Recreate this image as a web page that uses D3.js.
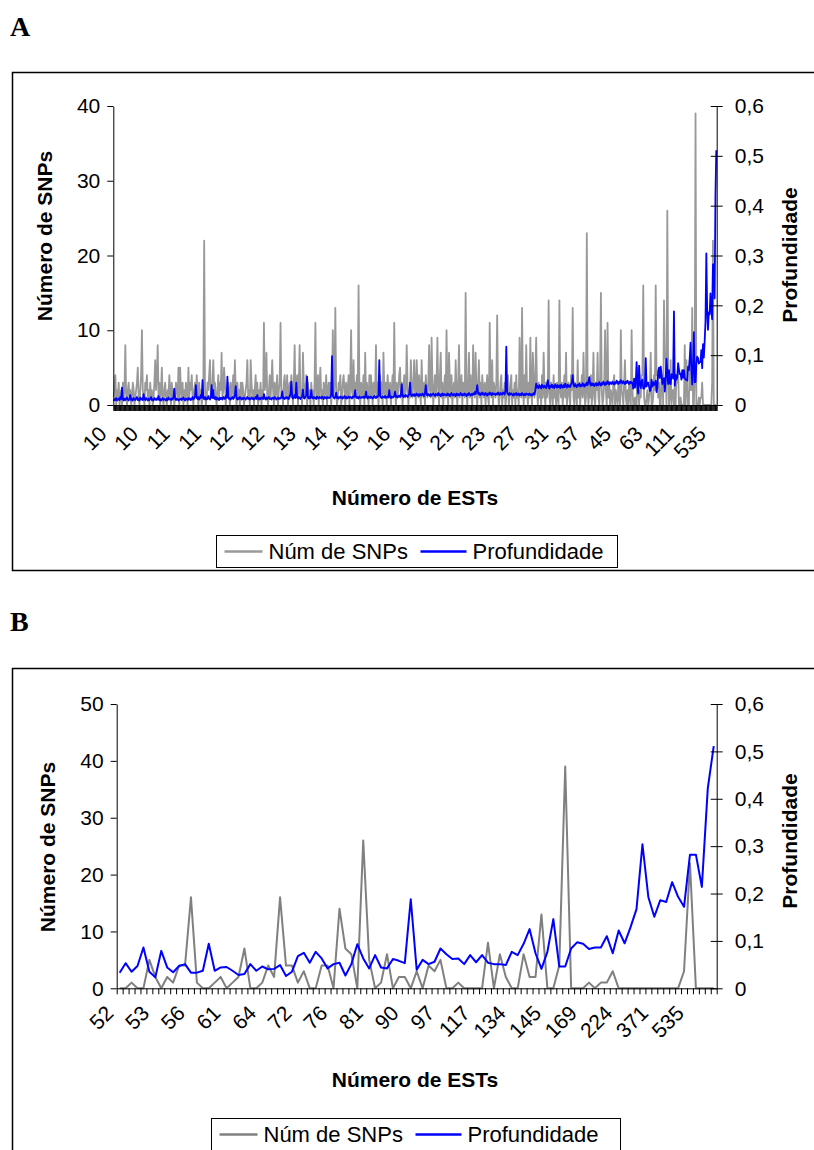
<!DOCTYPE html>
<html><head><meta charset="utf-8">
<script src="https://cdn.jsdelivr.net/npm/d3@7"></script>
<style>
body{margin:0;background:#fff}
svg{display:block}
text{font-family:"Liberation Sans",Arial,Helvetica,sans-serif;fill:#000}
</style>
</head><body>
<svg id="chart" width="814" height="1150"></svg>
<script>
// ---------- DATA ----------
// Panel A: contigs with >= 10 ESTs (first 626 contigs; the last 101 are the same as panel B)
const snpsAHead = [
1,3,4,0,2,1,3,0,1,2,0,3,1,2,8,1,0,2,3,1,
2,0,1,3,2,0,1,2,3,5,1,0,2,4,10,2,1,0,3,2,
4,1,2,0,3,1,2,0,1,3,6,2,4,8,1,3,0,2,5,1,
0,2,3,1,0,2,1,4,2,0,3,1,2,0,1,3,2,1,5,0,
5,2,1,3,0,2,1,3,2,0,5,1,3,2,4,1,0,2,3,1,
4,2,0,3,1,2,0,1,3,22,2,0,1,3,2,4,6,1,2,3,
6,2,3,1,0,2,4,1,3,2,7,1,2,5,3,0,2,1,3,2,
0,3,1,2,4,1,6,2,0,3,1,2,0,3,1,3,2,0,1,2,
3,6,1,2,0,6,3,1,2,0,2,4,1,3,0,2,1,3,0,2,
1,11,2,3,7,1,0,2,4,1,3,6,2,0,3,1,2,4,0,2,
3,11,1,2,0,3,4,1,2,4,0,2,3,1,4,2,0,3,8,1,
2,4,0,3,8,1,2,0,7,3,1,2,4,0,3,1,2,0,3,1,
2,0,3,11,1,2,4,0,3,5,1,2,0,3,1,2,4,0,2,3,
1,3,0,2,10,1,3,13,2,0,1,3,2,4,0,1,3,4,2,0,
3,1,2,4,0,3,10,2,1,6,0,3,2,4,1,16,2,0,3,1,
2,4,0,7,1,3,2,0,4,1,4,2,0,3,1,2,8,1,3,0,
2,4,1,3,0,7,2,1,3,0,4,2,1,3,0,2,4,1,11,2,
0,3,1,2,4,5,1,3,0,2,4,1,2,8,3,0,2,1,6,2,
1,3,6,2,0,6,3,1,4,2,0,6,2,1,3,0,4,2,1,3,
8,2,1,9,3,0,2,4,1,3,9,2,0,4,7,1,3,0,2,4,
1,10,2,0,7,3,1,4,0,2,3,1,6,2,0,3,8,1,2,4,
0,3,2,1,15,2,0,3,7,1,4,2,0,8,3,1,7,2,0,3,
6,1,3,0,4,2,1,3,0,2,4,1,0,11,2,1,6,0,3,2,
1,3,12,2,0,1,3,4,0,2,1,3,0,1,2,4,0,1,3,4,
0,2,1,3,0,4,1,2,0,9,3,1,13,2,0,4,1,8,2,0,
3,1,9,2,0,7,3,1,4,9,2,0,3,1,2,0,4,1,7,2,
0,3,1,2,14,1,0,3,2,0,4,1,2,0,3,1,0,14,2,1,
3,0,2,4,1,7,0,2,3,1,0,4,2,13,1,0,3,2,0,6,
1,3,0,2,4,1,7,2,0,1,23,2,0,3,1,4,0,2,7,1,
0,3,2,7,1,0,4,15,2,0,1,3,10,2,0,11,1,3,0,2,
1,0,3,4,0,2,1,0,3,1,0,10,2,1,0,3,6,1,0,2,
0,3,1,0,10,2
];
const depthAHead = [
0.008,0.012,0.010,0.014,0.009,0.011,0.013,0.010,0.016,0.012,0.035,0.011,0.009,0.013,0.010,0.012,0.015,0.011,0.009,0.013,
0.020,0.010,0.012,0.009,0.014,0.011,0.010,0.013,0.016,0.010,0.012,0.009,0.015,0.011,0.013,0.010,0.022,0.012,0.010,0.014,
0.011,0.009,0.013,0.010,0.012,0.016,0.010,0.011,0.009,0.014,0.012,0.010,0.013,0.011,0.018,0.010,0.012,0.009,0.011,0.014,
0.010,0.012,0.011,0.009,0.013,0.010,0.015,0.011,0.012,0.010,0.013,0.011,0.016,0.033,0.012,0.010,0.013,0.011,0.009,0.012,
0.011,0.013,0.010,0.012,0.015,0.011,0.009,0.013,0.012,0.010,0.014,0.011,0.013,0.010,0.012,0.016,0.011,0.013,0.018,0.040,
0.014,0.012,0.016,0.011,0.013,0.020,0.015,0.050,0.013,0.012,0.016,0.011,0.014,0.012,0.018,0.013,0.011,0.015,0.040,0.014,
0.030,0.013,0.012,0.016,0.011,0.014,0.013,0.010,0.015,0.012,0.014,0.011,0.016,0.013,0.012,0.018,0.014,0.057,0.016,0.012,
0.014,0.011,0.013,0.016,0.012,0.015,0.020,0.038,0.013,0.011,0.014,0.012,0.016,0.013,0.011,0.014,0.012,0.015,0.013,0.011,
0.013,0.016,0.012,0.014,0.011,0.013,0.015,0.012,0.014,0.011,0.013,0.016,0.012,0.020,0.013,0.011,0.014,0.012,0.015,0.013,
0.012,0.022,0.013,0.011,0.015,0.012,0.014,0.016,0.012,0.013,0.011,0.015,0.013,0.012,0.016,0.014,0.011,0.013,0.015,0.012,
0.014,0.013,0.016,0.027,0.013,0.015,0.012,0.014,0.016,0.013,0.015,0.012,0.018,0.022,0.047,0.016,0.013,0.015,0.020,0.014,
0.045,0.015,0.013,0.016,0.014,0.012,0.015,0.017,0.031,0.014,0.013,0.016,0.020,0.057,0.015,0.013,0.016,0.014,0.030,0.015,
0.013,0.016,0.014,0.015,0.012,0.017,0.014,0.013,0.016,0.015,0.013,0.017,0.014,0.012,0.016,0.015,0.013,0.016,0.014,0.015,
0.014,0.016,0.022,0.098,0.018,0.015,0.013,0.016,0.025,0.014,0.016,0.013,0.015,0.017,0.014,0.016,0.013,0.015,0.018,0.014,
0.016,0.013,0.015,0.017,0.014,0.016,0.015,0.013,0.017,0.015,0.018,0.030,0.015,0.014,0.016,0.013,0.017,0.015,0.014,0.016,
0.015,0.017,0.014,0.016,0.027,0.015,0.013,0.017,0.016,0.014,0.017,0.015,0.013,0.016,0.018,0.015,0.014,0.017,0.016,0.020,
0.090,0.017,0.015,0.014,0.017,0.016,0.015,0.018,0.014,0.016,0.017,0.015,0.030,0.016,0.014,0.017,0.015,0.016,0.018,0.027,
0.016,0.018,0.015,0.017,0.019,0.016,0.020,0.042,0.018,0.016,0.019,0.017,0.020,0.018,0.016,0.019,0.022,0.045,0.020,0.018,
0.021,0.019,0.022,0.018,0.020,0.023,0.019,0.021,0.018,0.022,0.020,0.019,0.023,0.021,0.018,0.024,0.040,0.021,0.019,0.022,
0.020,0.018,0.022,0.019,0.021,0.023,0.020,0.018,0.022,0.021,0.019,0.024,0.020,0.022,0.018,0.021,0.023,0.019,0.022,0.020,
0.021,0.019,0.023,0.020,0.022,0.018,0.021,0.024,0.020,0.019,0.022,0.021,0.018,0.023,0.020,0.022,0.019,0.021,0.024,0.020,
0.019,0.022,0.020,0.023,0.021,0.018,0.022,0.020,0.024,0.021,0.019,0.022,0.020,0.023,0.021,0.026,0.022,0.028,0.040,0.023,
0.021,0.024,0.020,0.022,0.025,0.021,0.023,0.020,0.024,0.022,0.019,0.023,0.021,0.025,0.022,0.020,0.024,0.021,0.023,0.022,
0.020,0.023,0.021,0.025,0.022,0.020,0.024,0.022,0.021,0.025,0.023,0.021,0.030,0.117,0.025,0.022,0.020,0.024,0.021,0.023,
0.021,0.019,0.023,0.020,0.022,0.024,0.020,0.021,0.023,0.019,0.022,0.020,0.024,0.021,0.019,0.022,0.020,0.023,0.021,0.022,
0.020,0.023,0.021,0.019,0.022,0.020,0.024,0.021,0.030,0.043,0.035,0.038,0.034,0.040,0.036,0.033,0.041,0.037,0.035,0.039,
0.036,0.034,0.040,0.050,0.037,0.033,0.039,0.036,0.041,0.035,0.038,0.034,0.042,0.037,0.035,0.040,0.036,0.039,0.034,0.041,
0.037,0.035,0.040,0.036,0.043,0.038,0.035,0.041,0.037,0.039,0.036,0.042,0.045,0.060,0.040,0.037,0.042,0.038,0.036,0.041,
0.039,0.043,0.037,0.040,0.038,0.044,0.041,0.037,0.042,0.039,0.045,0.040,0.048,0.056,0.042,0.039,0.044,0.040,0.043,0.038,
0.041,0.044,0.039,0.043,0.040,0.046,0.042,0.039,0.044,0.041,0.047,0.043,0.040,0.045,0.042,0.048,0.044,0.041,0.046,0.043,
0.042,0.047,0.044,0.041,0.046,0.043,0.049,0.045,0.042,0.047,0.044,0.050,0.046,0.043,0.048,0.045,0.042,0.047,0.044,0.049,
0.045,0.042,0.047,0.044,0.046,0.043
];
// Panel B: contigs with >= 52 ESTs
const snpsB = [
0,0,1,0,0,5,2,0,2,1,4,4,16,1,0,0,1,2,0,1,
2,7,0,0,1,4,2,16,4,4,1,3,0,0,4,4,0,14,7,6,
0,26,5,0,1,6,0,2,2,0,
3,0,4,3,5,0,0,1,0,0,0,0,8,0,6,2,0,0,6,2,
2,13,0,0,4,39,0,0,0,1,0,1,1,3,0,0,0,0,0,0,
0,0,0,0,0,3,22,0,0,0,0
];
const depthB = [
0.033,0.053,0.035,0.047,0.086,0.035,0.023,0.079,0.044,0.034,0.047,0.051,0.033,0.033,0.037,0.094,0.037,0.044,0.045,0.037,
0.028,0.030,0.051,0.037,0.046,0.040,0.041,0.049,0.026,0.035,0.068,0.075,0.054,0.077,0.063,0.042,0.051,0.054,0.027,0.051,
0.093,0.063,0.042,0.070,0.044,0.042,0.062,0.058,0.053,0.188,
0.039,0.060,0.051,0.056,0.084,0.072,0.062,0.063,0.051,0.070,0.055,0.070,0.054,0.051,0.051,0.049,0.077,0.070,0.094,0.125,
0.074,0.041,0.077,0.146,0.046,0.046,0.084,0.097,0.094,0.083,0.086,0.086,0.110,0.074,0.122,0.095,0.129,0.167,0.304,0.192,
0.151,0.186,0.182,0.224,0.193,0.172,0.282,0.282,0.214,0.422,0.511
];
const tickLabelsA = ["10","10","11","11","12","12","13","14","15","16","18","21","23","27","31","37","45","63","111","535"];
const tickLabelsB = ["52","53","56","61","64","72","76","81","90","97","117","134","145","169","224","371","535"];
const labelEveryA = 38, labelEveryB = 6;
const leftTicksA = [0,10,20,30,40];
const leftTicksB = [0,10,20,30,40,50];
const rightTicks = [0,0.1,0.2,0.3,0.4,0.5,0.6];
const seriesNames = ["Núm de SNPs","Profundidade"];
const axisTitles = {left:"Número de SNPs", right:"Profundidade", bottom:"Número de ESTs"};

const snpsA = snpsAHead.concat(snpsB);
const depthA = depthAHead.concat(depthB);

// ---------- DRAW ----------
const svg = d3.select("#chart");
const ptBR = d3.formatLocale({decimal:",", thousands:".", grouping:[3], currency:["",""]});
const fmtR = v => v === 0 ? "0" : ptBR.format(".1f")(v);

function panel(cfg){
  const g = svg.append("g");
  g.append("rect").attr("x",cfg.frame[0]).attr("y",cfg.frame[1])
    .attr("width",cfg.frame[2]).attr("height",cfg.frame[3])
    .attr("fill","none").attr("stroke","#000").attr("stroke-width",1.5);
  g.append("text").text(cfg.letter).attr("x",10).attr("y",cfg.letterY)
    .style("font-family","'Liberation Serif','Times New Roman',serif")
    .style("font-weight","bold").style("font-size","28px");

  const N = cfg.snps.length;
  const x = d3.scalePoint().domain(d3.range(N)).range([cfg.left,cfg.right]).padding(0.5);
  const xb = d3.scaleLinear().domain([0,N]).range([cfg.left,cfg.right]);
  const yL = d3.scaleLinear().domain([0,cfg.yMax]).range([cfg.bottom,cfg.top]);
  const yR = d3.scaleLinear().domain([0,0.6]).range([cfg.bottom,cfg.top]);

  const lineL = d3.line().x((d,i)=>x(i)).y(d=>yL(d));
  const lineR = d3.line().x((d,i)=>x(i)).y(d=>yR(d));
  g.append("path").datum(cfg.snps).attr("d",lineL).attr("fill","none")
    .attr("stroke",cfg.grayColor).attr("stroke-width",cfg.lw).attr("stroke-linejoin","round");
  g.append("path").datum(cfg.depth).attr("d",lineR).attr("fill","none")
    .attr("stroke","#0000ff").attr("stroke-width",cfg.lw).attr("stroke-linejoin","round");

  const axL = g.append("g").attr("transform",`translate(${cfg.left},0)`)
    .call(d3.axisLeft(yL).tickValues(cfg.leftTicks).tickSize(6).tickSizeOuter(0).tickPadding(7));
  const axR = g.append("g").attr("transform",`translate(${cfg.right},0)`)
    .call(d3.axisRight(yR).tickValues(rightTicks).tickSize(6).tickSizeOuter(0).tickPadding(12).tickFormat(fmtR));
  axR.selectAll(".tick line").attr("x1",-6);
  const axB = g.append("g").attr("transform",`translate(0,${cfg.bottom})`)
    .call(d3.axisBottom(xb).tickValues(d3.range(N+1)).tickSize(6).tickSizeOuter(0).tickFormat(""));
  [axL,axR,axB].forEach(a=>{
    a.selectAll("path,line").attr("stroke","#000").attr("stroke-width",1);
    a.selectAll("text").style("font-size","21px").style("font-family","'Liberation Sans',Arial,sans-serif").attr("fill","#000");
  });

  const labIdx = cfg.tickLabels.map((t,k)=>k*cfg.every);
  g.selectAll(".xl").data(labIdx).enter().append("text")
    .attr("transform",d=>`translate(${x(d)+cfg.xlOff[0]},${cfg.bottom+cfg.xlOff[1]}) rotate(-45)`)
    .attr("text-anchor","end").attr("dy","0.35em")
    .style("font-size","21px")
    .text((d,k)=>cfg.tickLabels[k]);

  g.append("text").text(axisTitles.left)
    .attr("transform",`translate(${cfg.ltX},${cfg.ltY}) rotate(-90)`)
    .attr("text-anchor","middle").style("font-weight","bold").style("font-size","21px");
  g.append("text").text(axisTitles.right)
    .attr("transform",`translate(${cfg.rtX},${cfg.rtY}) rotate(-90)`)
    .attr("text-anchor","middle").style("font-weight","bold").style("font-size","21px");
  g.append("text").text(axisTitles.bottom)
    .attr("x",415).attr("y",cfg.btY)
    .attr("text-anchor","middle").style("font-weight","bold").style("font-size","21px");

  const L = cfg.legend;
  const lg = g.append("g");
  lg.append("rect").attr("x",L.x).attr("y",L.y).attr("width",L.w).attr("height",L.h)
    .attr("fill","#fff").attr("stroke","#000").attr("stroke-width",1);
  const cy = L.y + L.h/2;
  lg.append("line").attr("x1",L.x+8).attr("x2",L.x+46).attr("y1",cy).attr("y2",cy)
    .attr("stroke",cfg.grayColor).attr("stroke-width",2.5);
  lg.append("text").text(seriesNames[0]).attr("x",L.x+52).attr("y",cy).attr("dy","0.36em").style("font-size","22px");
  lg.append("line").attr("x1",L.x+204).attr("x2",L.x+250).attr("y1",cy).attr("y2",cy)
    .attr("stroke","#0000ff").attr("stroke-width",2.5);
  lg.append("text").text(seriesNames[1]).attr("x",L.x+256).attr("y",cy).attr("dy","0.36em").style("font-size","22px");
}

panel({
  letter:"A", letterY:36, frame:[12.5,72.5,830,498],
  snps:snpsA, depth:depthA, yMax:40, leftTicks:leftTicksA,
  left:113.3, right:716.7, top:106, bottom:405,
  tickLabels:tickLabelsA, every:labelEveryA, xlOff:[-11,25],
  grayColor:"#999999", lw:1.8,
  ltX:52, ltY:236, rtX:797, rtY:255, btY:505,
  legend:{x:216.5,y:535.5,w:401,h:32}
});
panel({
  letter:"B", letterY:631, frame:[12.5,668.5,830,520],
  snps:snpsB, depth:depthB, yMax:50, leftTicks:leftTicksB,
  left:116.7, right:716.7, top:704, bottom:988.3,
  tickLabels:tickLabelsB, every:labelEveryB, xlOff:[-10,21],
  grayColor:"#808080", lw:2,
  ltX:55, ltY:847, rtX:797, rtY:841, btY:1087,
  legend:{x:211.5,y:1118.5,w:409,h:32}
});
</script>
</body></html>
